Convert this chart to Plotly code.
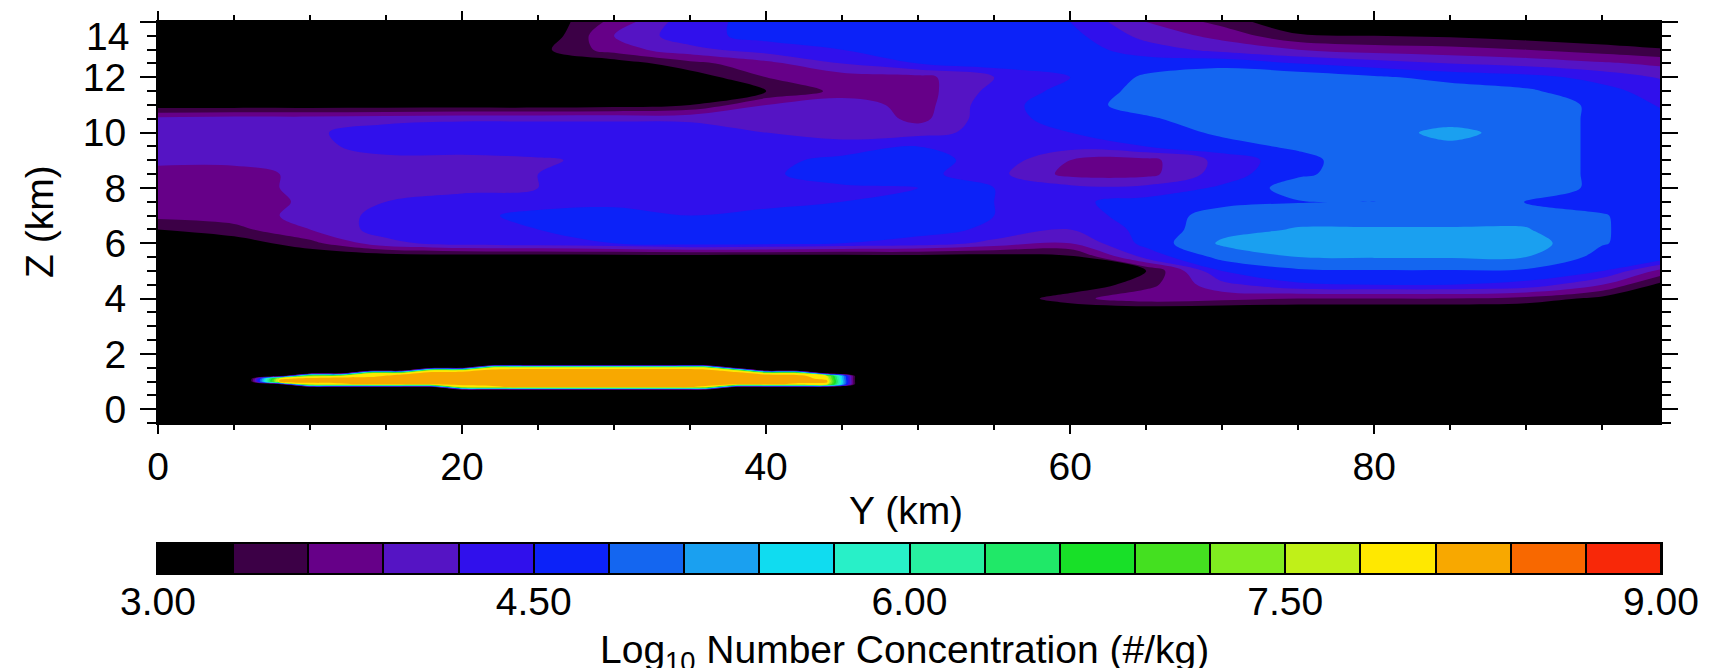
import plotly.graph_objects as go

W, H = 1710, 668
FONT = "Liberation Sans"
OFF = 8  # the page body margin that the browser adds around the figure

# ---------------- data ----------------
# grid columns (horizontal distance, km) and rows (height, km, top to bottom)
y_km = [0, 5, 10, 15, 20, 25, 30, 35, 40, 45, 50, 55, 60, 65, 70, 75, 80, 85, 90, 95, 100]
z_km = [14.0, 13.5, 13.0, 12.5, 12.0, 11.5, 11.0, 10.5, 10.0, 9.5, 9.0, 8.5, 8.0,
        7.5, 7.0, 6.5, 6.0, 5.5, 5.0, 4.5, 4.0, 3.5, -0.5]
# log10 number concentration of the upper cloud, one row per height above
cloud_log10 = [
    [3.0, 3.0, 3.0, 3.0, 3.0, 3.0, 3.7, 4.4, 4.6, 4.6, 4.65, 4.65, 4.5, 3.9, 3.5, 3.0, 3.0, 3.0, 3.0, 3.0, 3.0],
    [3.0, 3.0, 3.0, 3.0, 3.0, 3.0, 3.9, 4.4, 4.6, 4.6, 4.65, 4.65, 4.6, 4.1, 3.8, 3.35, 3.3, 3.25, 3.15, 3.05, 3.0],
    [3.0, 3.0, 3.0, 3.0, 3.0, 3.2, 3.75, 4.1, 4.35, 4.5, 4.65, 4.65, 4.65, 4.35, 4.1, 3.9, 3.75, 3.7, 3.6, 3.45, 3.3],
    [3.0, 3.0, 3.0, 3.0, 3.0, 3.0, 3.1, 3.5, 3.8, 4.2, 4.5, 4.65, 4.65, 4.65, 4.7, 4.5, 4.35, 4.2, 4.1, 3.95, 3.8],
    [3.0, 3.0, 3.0, 3.0, 3.0, 3.0, 3.0, 3.1, 3.6, 3.75, 3.8, 4.2, 4.5, 4.85, 5.0, 5.0, 4.85, 4.7, 4.6, 4.4, 4.1],
    [3.0, 3.0, 3.0, 3.0, 3.0, 3.0, 3.0, 3.05, 3.3, 3.7, 3.75, 4.3, 4.6, 4.9, 5.0, 5.0, 5.0, 4.95, 4.85, 4.6, 4.3],
    [3.1, 3.1, 3.1, 3.1, 3.1, 3.1, 3.15, 3.3, 3.9, 4.1, 3.75, 4.4, 4.65, 4.95, 5.0, 5.0, 5.0, 5.0, 5.0, 4.72, 4.4],
    [4.0, 4.05, 4.05, 4.1, 4.15, 4.15, 4.15, 4.15, 4.1, 4.2, 3.8, 4.4, 4.6, 4.75, 5.0, 5.0, 5.0, 5.0, 5.0, 4.72, 4.5],
    [4.0, 4.05, 4.15, 4.35, 4.4, 4.4, 4.4, 4.35, 4.2, 4.1, 4.1, 4.3, 4.5, 4.65, 4.85, 5.0, 5.0, 5.17, 5.0, 4.72, 4.6],
    [4.0, 4.05, 4.1, 4.35, 4.35, 4.4, 4.4, 4.35, 4.2, 4.3, 4.5, 4.4, 4.3, 4.5, 4.7, 4.85, 5.0, 5.05, 5.0, 4.72, 4.65],
    [4.0, 4.0, 4.05, 4.1, 4.1, 4.15, 4.3, 4.35, 4.4, 4.6, 4.6, 4.4, 3.9, 3.8, 4.3, 4.7, 5.0, 5.0, 5.0, 4.72, 4.65],
    [3.75, 3.75, 4.0, 4.1, 4.1, 4.2, 4.35, 4.4, 4.45, 4.65, 4.6, 4.3, 3.8, 3.8, 4.35, 4.75, 4.95, 5.0, 5.0, 4.72, 4.65],
    [3.75, 3.75, 4.0, 4.05, 4.1, 4.2, 4.35, 4.4, 4.4, 4.45, 4.5, 4.5, 4.3, 4.3, 4.55, 4.95, 5.0, 5.0, 5.0, 4.72, 4.65],
    [3.7, 3.75, 3.95, 4.2, 4.35, 4.35, 4.4, 4.4, 4.4, 4.5, 4.55, 4.5, 4.45, 4.6, 4.7, 4.78, 4.78, 4.95, 4.78, 4.7, 4.65],
    [3.7, 3.75, 4.0, 4.3, 4.4, 4.6, 4.65, 4.5, 4.6, 4.65, 4.65, 4.5, 4.4, 4.6, 4.95, 5.0, 5.0, 5.0, 5.0, 4.82, 4.6],
    [3.3, 3.5, 3.9, 4.35, 4.4, 4.5, 4.65, 4.7, 4.65, 4.65, 4.6, 4.45, 4.2, 4.6, 5.0, 5.12, 5.12, 5.12, 5.12, 4.82, 4.65],
    [3.0, 3.1, 3.5, 4.1, 4.35, 4.4, 4.5, 4.65, 4.6, 4.5, 4.4, 4.1, 3.9, 4.6, 5.15, 5.3, 5.3, 5.3, 5.25, 4.82, 4.6],
    [3.0, 3.0, 3.0, 3.05, 3.05, 3.05, 3.05, 3.05, 3.05, 3.05, 3.1, 3.1, 3.2, 4.3, 4.9, 5.1, 5.12, 5.12, 5.1, 4.7, 4.5],
    [3.0, 3.0, 3.0, 3.0, 3.0, 3.0, 3.0, 3.0, 3.0, 3.0, 3.0, 3.0, 3.0, 3.3, 4.5, 4.75, 4.78, 4.78, 4.75, 4.5, 3.6],
    [3.0, 3.0, 3.0, 3.0, 3.0, 3.0, 3.0, 3.0, 3.0, 3.0, 3.0, 3.0, 3.0, 3.5, 4.1, 4.45, 4.5, 4.5, 4.4, 3.9, 3.0],
    [3.0, 3.0, 3.0, 3.0, 3.0, 3.0, 3.0, 3.0, 3.0, 3.0, 3.0, 3.0, 3.5, 3.8, 3.7, 3.6, 3.6, 3.6, 3.5, 3.2, 3.0],
    [2.9, 2.9, 2.9, 2.9, 2.9, 2.9, 2.9, 2.9, 2.9, 2.9, 2.9, 2.9, 2.9, 2.9, 2.9, 2.9, 2.9, 2.9, 2.9, 2.9, 2.9],
    [2.9, 2.9, 2.9, 2.9, 2.9, 2.9, 2.9, 2.9, 2.9, 2.9, 2.9, 2.9, 2.9, 2.9, 2.9, 2.9, 2.9, 2.9, 2.9, 2.9, 2.9],
]

# the thin low-level layer (finer grid), heights top to bottom
band_y_km = [4, 6, 8, 10, 12, 14, 16, 18, 20, 22, 24, 26, 28, 30, 32, 34, 36, 38, 40, 42, 44, 46, 48]
band_z_km = [1.7, 1.6, 1.5, 1.4, 1.3, 1.2, 1.1, 1.0, 0.9, 0.8, 0.7, 0.6]
band_log10 = [
    [2.9, 2.9, 2.9, 2.9, 2.9, 2.9, 2.9, 2.9, 2.9, 2.9, 2.9, 2.9, 2.9, 2.9, 2.9, 2.9, 2.9, 2.9, 2.9, 2.9, 2.9, 2.9, 2.9],
    [2.9, 2.9, 2.9, 2.9, 2.9, 2.9, 2.9, 2.9, 2.9, 2.9, 2.9, 2.9, 2.9, 2.9, 2.9, 2.9, 2.9, 2.9, 2.9, 2.9, 2.9, 2.9, 2.9],
    [2.9, 2.9, 2.9, 2.9, 2.9, 2.9, 2.9, 2.9, 2.9, 7.85, 7.95, 7.95, 7.95, 7.95, 7.95, 7.95, 7.85, 2.9, 2.9, 2.9, 2.9, 2.9, 2.9],
    [2.9, 2.9, 2.9, 2.9, 2.9, 2.9, 2.9, 7.9, 7.95, 8.25, 8.25, 8.25, 8.25, 8.25, 8.25, 8.25, 8.25, 7.9, 2.9, 2.9, 2.9, 2.9, 2.9],
    [2.9, 2.9, 2.9, 2.9, 2.9, 7.8, 7.95, 8.25, 8.25, 8.25, 8.25, 8.25, 8.25, 8.25, 8.25, 8.25, 8.25, 8.25, 7.95, 7.8, 2.9, 2.9, 2.9],
    [2.9, 2.9, 2.9, 7.6, 7.9, 8.0, 8.25, 8.25, 8.25, 8.25, 8.25, 8.25, 8.25, 8.25, 8.25, 8.25, 8.25, 8.25, 8.25, 8.25, 7.8, 2.9, 2.9],
    [2.9, 2.9, 8.0, 8.25, 8.25, 8.25, 8.25, 8.25, 8.25, 8.25, 8.25, 8.25, 8.25, 8.25, 8.25, 8.25, 8.25, 8.25, 8.25, 8.25, 8.0, 2.9, 2.9],
    [2.9, 2.9, 8.25, 8.25, 8.25, 8.25, 8.25, 8.25, 8.25, 8.25, 8.25, 8.25, 8.25, 8.25, 8.25, 8.25, 8.25, 8.25, 8.25, 8.25, 8.2, 2.9, 2.9],
    [2.9, 2.9, 2.9, 7.9, 8.0, 8.2, 8.2, 8.25, 8.25, 8.25, 8.25, 8.25, 8.25, 8.25, 8.25, 8.25, 8.25, 8.2, 8.2, 8.0, 7.9, 2.9, 2.9],
    [2.9, 2.9, 2.9, 2.9, 2.9, 2.9, 2.9, 2.9, 7.8, 8.0, 8.2, 8.2, 8.2, 8.2, 8.2, 8.2, 8.0, 2.9, 2.9, 2.9, 2.9, 2.9, 2.9],
    [2.9, 2.9, 2.9, 2.9, 2.9, 2.9, 2.9, 2.9, 2.9, 2.9, 2.9, 2.9, 2.9, 2.9, 2.9, 2.9, 2.9, 2.9, 2.9, 2.9, 2.9, 2.9, 2.9],
    [2.9, 2.9, 2.9, 2.9, 2.9, 2.9, 2.9, 2.9, 2.9, 2.9, 2.9, 2.9, 2.9, 2.9, 2.9, 2.9, 2.9, 2.9, 2.9, 2.9, 2.9, 2.9, 2.9],
]

# colour levels
level_edges = [3.0, 3.3, 3.6, 3.9, 4.2, 4.5, 4.8, 5.1, 5.4, 5.7, 6.0,
               6.3, 6.6, 6.9, 7.2, 7.5, 7.8, 8.1, 8.4, 8.7, 9.0]
level_colors = ['#000000', '#3c0046', '#660088', '#5514c4', '#3010ec', '#0c22f8',
                '#1466f0', '#1aa0f0', '#10dcf0', '#28f0c8', '#28f0a0', '#20e868',
                '#18e028', '#44e020', '#80ec20', '#c0f018', '#ffe800', '#f8a800',
                '#f86800', '#f82808']
cbar_tickvals = [3.0, 4.5, 6.0, 7.5, 9.0]
cbar_ticktext = ['3.00', '4.50', '6.00', '7.50', '9.00']
x_tickvals = [0, 20, 40, 60, 80]
z_tickvals = [0, 2, 4, 6, 8, 10, 12, 14]

# ---------------- figure ----------------
n = len(level_colors)
step = level_edges[1] - level_edges[0]
contour_scale = [[j / (n - 1), c] for j, c in enumerate(level_colors)]
band_scale = [[0.0, 'rgba(0,0,0,0)']] + [[j / (n - 1), c] for j, c in enumerate(level_colors) if j > 0]
heat_scale = []
for j, c in enumerate(level_colors):
    heat_scale += [[j / n, c], [(j + 1) / n, c]]

contours = dict(start=level_edges[1], end=level_edges[-2], size=step,
                coloring='fill', showlines=False)

fig = go.Figure()
fig.add_trace(go.Contour(x=y_km, y=z_km, z=cloud_log10, contours=contours,
                         colorscale=contour_scale, showscale=False,
                         line=dict(width=0, smoothing=1.0), hoverinfo='skip'))
fig.add_trace(go.Contour(x=band_y_km, y=band_z_km, z=band_log10, contours=contours,
                         colorscale=band_scale, showscale=False,
                         line=dict(width=0, smoothing=0.8), hoverinfo='skip'))

centers = [(a + b) / 2 for a, b in zip(level_edges[:-1], level_edges[1:])]
fig.add_trace(go.Heatmap(x=centers, y=[0], z=[centers], colorscale=heat_scale,
                         zmin=level_edges[0], zmax=level_edges[-1], showscale=False,
                         xgap=2, xaxis='x2', yaxis='y2', hoverinfo='skip'))

def px(v):
    return (v - OFF) / W

def py(v):
    return 1 - (v - OFF) / H

# the top label sits just under its tick (as in the original), so it is an annotation
z_ticktext = [str(v) for v in z_tickvals[:-1]] + ['']

tf = dict(family=FONT, size=39, color='black')
fig.update_layout(
    width=W, height=H, margin=dict(l=0, r=0, t=0, b=0, pad=0, autoexpand=False),
    paper_bgcolor='white', plot_bgcolor='black', showlegend=False,
    font=dict(family=FONT, color='black'),
    xaxis=dict(domain=[px(158), px(1660)], range=[0, 98.8], tickvals=x_tickvals,
               ticks='outside', ticklen=9, tickwidth=2, tickcolor='black',
               minor=dict(dtick=5, tick0=0, ticks='outside', ticklen=5, tickwidth=1.5, tickcolor='black'),
               showline=True, linecolor='black', linewidth=2, mirror='ticks',
               showgrid=False, zeroline=False, tickfont=tf, ticklabelstandoff=-1,
               ticklabeloverflow='allow', automargin=False, anchor='y'),
    yaxis=dict(domain=[py(423), py(22)], range=[-0.5, 14], tickvals=z_tickvals,
               ticktext=z_ticktext,
               ticks='outside', ticklen=16, tickwidth=2, tickcolor='black',
               minor=dict(dtick=0.5, tick0=0, ticks='outside', ticklen=9, tickwidth=1.5, tickcolor='black'),
               showline=True, linecolor='black', linewidth=2, mirror='ticks',
               showgrid=False, zeroline=False, tickfont=tf, ticklabelstandoff=6,
               ticklabeloverflow='allow', automargin=False, anchor='x'),
    xaxis2=dict(domain=[px(158), px(1661)], range=[level_edges[0], level_edges[-1]],
                tickvals=cbar_tickvals, ticktext=cbar_ticktext, ticks='',
                showline=True, linecolor='black', linewidth=2, mirror=True,
                showgrid=False, zeroline=False, tickfont=tf, ticklabelstandoff=-7,
                ticklabeloverflow='allow', automargin=False, anchor='y2'),
    yaxis2=dict(domain=[py(573), py(544)], range=[-0.5, 0.5], showticklabels=False,
                ticks='', showline=True, linecolor='black', linewidth=2, mirror=True,
                showgrid=False, zeroline=False, automargin=False, anchor='x2'),
    annotations=[
        dict(text=str(z_tickvals[-1]), x=px(131), y=py(36), xref='paper', yref='paper',
             showarrow=False, font=tf, xanchor='right', yanchor='middle'),
        dict(text='Z (km)', x=px(39), y=py(222), xref='paper', yref='paper',
             textangle=-90, showarrow=False, font=tf, xanchor='center', yanchor='middle'),
        dict(text='Y (km)', x=px(906), y=py(510), xref='paper', yref='paper',
             showarrow=False, font=tf, xanchor='center', yanchor='middle'),
        dict(text='Log<sub>10</sub> Number Concentration (#/kg)', x=px(905), y=py(652),
             xref='paper', yref='paper', showarrow=False, font=tf,
             xanchor='center', yanchor='middle'),
    ],
)

fig.write_html("out.html")
